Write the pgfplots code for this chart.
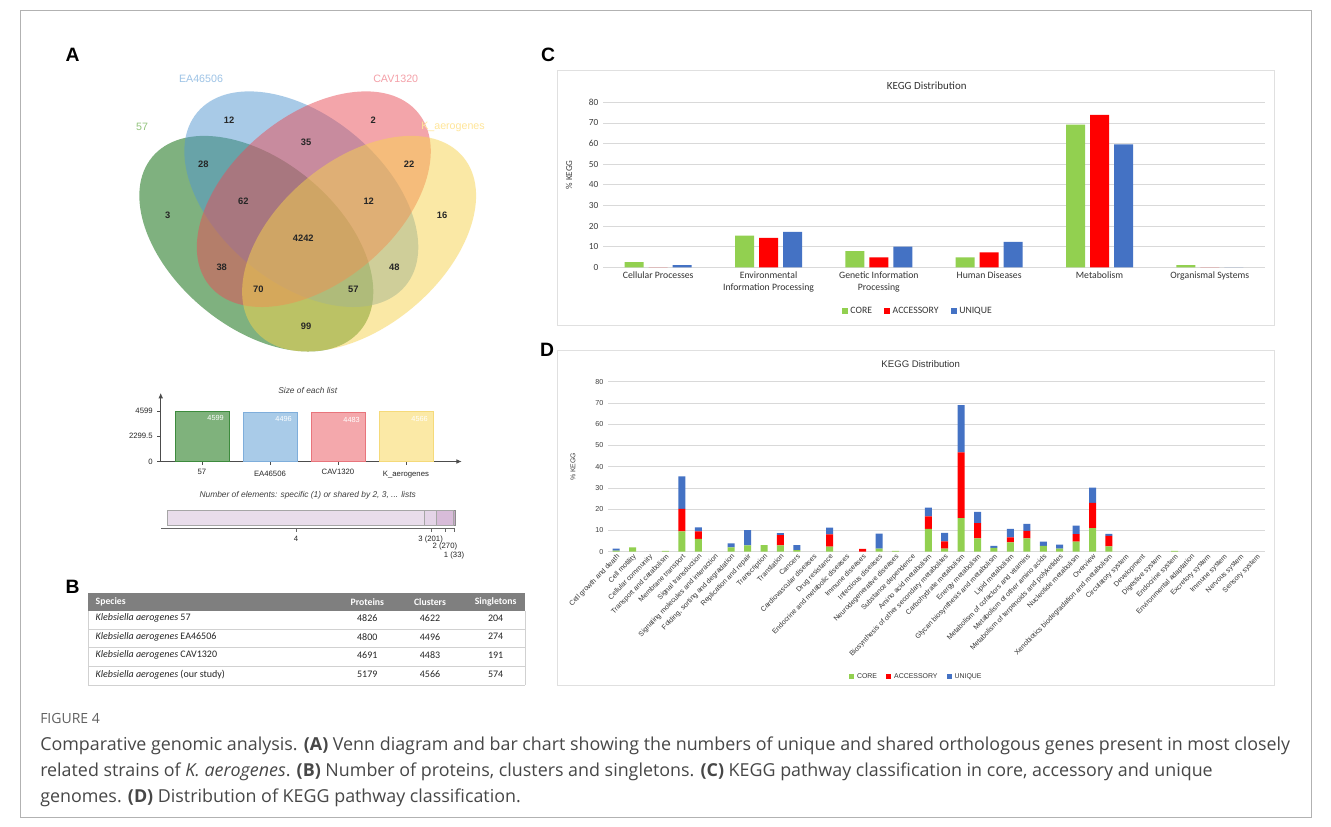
\documentclass[border=0pt]{standalone}
\usepackage{pgfplots}
\pgfplotsset{compat=1.18}
\usepackage{pgfplotstable}
\usetikzlibrary{arrows.meta}
\usepackage{fontspec}
\setmainfont{Liberation Sans}
\newfontfamily\carlito{Carlito}
\newfontfamily\capfont{Open Sans}

\definecolor{core}{HTML}{92D050}
\definecolor{acc}{HTML}{FF0000}
\definecolor{uni}{HTML}{4472C4}
\definecolor{vgreen}{RGB}{0,100,0}
\definecolor{vblue}{RGB}{83,151,209}
\definecolor{vpink}{RGB}{233,77,87}
\definecolor{vyellow}{RGB}{247,211,77}
\definecolor{gridc}{HTML}{D9D9D9}
\definecolor{tabhead}{HTML}{7F7F7F}

\pgfplotstableread{
idx core acc uni
0 2.5 0 1.0
1 15.3 14.3 17.2
2 7.9 4.8 10.0
3 4.8 7.2 12.3
4 69.2 73.9 59.6
5 1.1 0 0
}\keggC

\pgfplotstableread{
idx core acc uni
0 0.5 0 0.9
1 2.0 0 0
2 0 0 0
3 0.4 0 0
4 9.6 10.6 15.2
5 6.0 3.6 1.8
6 0 0 0
7 2.0 0 1.9
8 3.0 0 7.2
9 3.1 0 0
10 3.0 4.8 1.0
11 0.8 0 2.3
12 0 0 0
13 2.4 5.8 3.1
14 0 0 0
15 0 1.3 0
16 1.4 0 7.1
17 0.4 0 0
18 0 0 0
19 10.8 5.8 4.1
20 1.4 3.5 4.0
21 15.8 31.0 22.2
22 6.3 7.2 5.2
23 1.8 0 1.0
24 4.4 2.3 4.1
25 6.3 3.5 3.3
26 2.8 0 2.0
27 1.4 0 1.9
28 4.7 3.6 4.0
29 11.1 11.9 7.2
30 2.5 5.0 0.9
31 0 0 0
32 0 0 0
33 0 0 0
34 0.4 0 0
35 0 0 0
36 0 0 0
37 0 0 0
38 0 0 0
39 0 0 0
}\keggD

\begin{document}
\begin{tikzpicture}
\begin{scope}[x=0.75pt,y=-0.75pt]
\path[use as bounding box,fill=white] (0,0) rectangle (1331,827);
\draw[black!30,line width=0.6pt] (20,10) rectangle (1311,817);
\coordinate (venn) at (120,380);
\coordinate (size) at (160.7,461.5);
\coordinate (elem) at (161,528.3);
\coordinate (cax) at (603,267.3);
\coordinate (dax) at (608,551.7);
% frames of C and D
\draw[black!12,line width=0.75pt] (557,70.7) rectangle (1274.3,325);
\draw[black!12,line width=0.75pt] (557.3,350.7) rectangle (1274,685);
% panel letters
\foreach \L/\X/\Y in {A/72.7/55,B/72.7/586.7,C/548/55,D/547/350}
  \node[font=\bfseries\fontsize{14.5}{15}\selectfont] at (\X,\Y) {\L};
% titles of panel A charts
\node[font=\itshape\fontsize{6.3}{7}\selectfont,text=black!75] at (307.7,390.7) {Size of each list};
\node[font=\itshape\fontsize{6.3}{7}\selectfont,text=black!75] at (307.7,495.7) {Number of elements: specific (1) or shared by 2, 3, ... lists};
% C and D titles / labels
\node[font=\carlito\fontsize{8.2}{9}\selectfont,text=black!80] at (926.7,85.7) {KEGG Distribution};
\node[font=\carlito\fontsize{6.8}{8}\selectfont,text=black!75,rotate=90] at (569,175) {\% KEGG};
\node[font=\fontsize{7.2}{8}\selectfont,text=black!80] at (920.7,364.3) {KEGG Distribution};
\node[font=\fontsize{5.2}{6}\selectfont,text=black!75,rotate=90] at (573,466.7) {\% KEGG};
% table B
\fill[tabhead] (88.3,592.7) rectangle (525,610.7);
\begin{scope}[font=\carlito\bfseries\fontsize{7.3}{8}\selectfont,text=white]
\node[anchor=west] at (91,601.7) {Species};
\node at (367.3,601.7) {Proteins};
\node at (430,601.7) {Clusters};
\node at (495.7,601.7) {Singletons};
\end{scope}
\draw[black!18,line width=0.6pt] (88.3,610.7) -- (88.3,685) (525,610.7) -- (525,685);
\foreach \Y in {629.3,647.3,666.7,685} \draw[black!18,line width=0.6pt] (88.3,\Y) -- (525,\Y);
\begin{scope}[font=\carlito\fontsize{7.5}{8}\selectfont,text=black!85]
\node[anchor=west] at (91,618.3) {\textit{Klebsiella aerogenes} 57};
\node[anchor=west] at (91,636.7) {\textit{Klebsiella aerogenes} EA46506};
\node[anchor=west] at (91,655.3) {\textit{Klebsiella aerogenes} CAV1320};
\node[anchor=west] at (91,674.3) {\textit{Klebsiella aerogenes} (our study)};
\foreach \Y/\a/\b/\c in {618.3/4826/4622/204,636.7/4800/4496/274,655.3/4691/4483/191,674.3/5179/4566/574}{
  \node at (367.3,\Y) {\a}; \node at (430,\Y) {\b}; \node at (495.7,\Y) {\c};}
\end{scope}
% caption
\node[anchor=base west,inner sep=0pt,font=\capfont\fontsize{10.5}{12}\selectfont,text=black!62] at (40,723) {FIGURE 4};
\begin{scope}[font=\capfont\fontsize{13.4}{16}\selectfont,text=black!72]
\node[anchor=base west,inner sep=0pt] at (40,750) {Comparative genomic analysis. \textbf{(A)} Venn diagram and bar chart showing the numbers of unique and shared orthologous genes present in most closely};
\node[anchor=base west,inner sep=0pt] at (40,776) {related strains of \textit{K. aerogenes}. \textbf{(B)} Number of proteins, clusters and singletons. \textbf{(C)} KEGG pathway classification in core, accessory and unique};
\node[anchor=base west,inner sep=0pt] at (40,802) {genomes. \textbf{(D)} Distribution of KEGG pathway classification.};
\end{scope}
\end{scope}

% ---------------- Venn diagram ----------------
\begin{axis}[at={(venn)},anchor=south west,scale only axis,width=285pt,height=240pt,
  xmin=120,xmax=500,ymin=60,ymax=380,y dir=reverse,hide axis,clip=false]
\fill[vgreen,opacity=0.5,rotate around={-39.8:(axis cs:256.3,243.7)}] (axis cs:256.3,243.7) ellipse [x radius=101.6pt,y radius=62.55pt];
\fill[vblue,opacity=0.5,rotate around={-39.8:(axis cs:301.3,199.2)}] (axis cs:301.3,199.2) ellipse [x radius=101.6pt,y radius=62.55pt];
\fill[vpink,opacity=0.5,rotate around={39.8:(axis cs:313.8,199.2)}] (axis cs:313.8,199.2) ellipse [x radius=101.6pt,y radius=62.55pt];
\fill[vyellow,opacity=0.5,rotate around={39.8:(axis cs:359.1,243.7)}] (axis cs:359.1,243.7) ellipse [x radius=101.6pt,y radius=62.55pt];
\begin{scope}[font=\fontsize{8}{9}\selectfont]
\node[text={rgb,255:red,157;green,195;blue,230}] at (axis cs:201,79) {EA46506};
\node[text={rgb,255:red,244;green,160;blue,168}] at (axis cs:395.7,79) {CAV1320};
\node[text={rgb,255:red,147;green,196;blue,125}] at (axis cs:142,127) {57};
\node[text={rgb,255:red,255;green,230;blue,153}] at (axis cs:453,127) {K\_aerogenes};
\end{scope}
\begin{scope}[font=\bfseries\fontsize{7}{8}\selectfont,text=black!85]
\node at (axis cs:229,120.3) {12};
\node at (axis cs:373.3,120.3) {2};
\node at (axis cs:306,142.3) {35};
\node at (axis cs:203.3,164.3) {28};
\node at (axis cs:409,164.3) {22};
\node at (axis cs:167.7,215.7) {3};
\node at (axis cs:442,215.7) {16};
\node at (axis cs:243.3,201.3) {62};
\node at (axis cs:368.7,201.3) {12};
\node at (axis cs:303.3,238.3) {4242};
\node at (axis cs:221.7,267.3) {38};
\node at (axis cs:394.3,267.3) {48};
\node at (axis cs:258.3,289.3) {70};
\node at (axis cs:353.3,289.3) {57};
\node at (axis cs:306,326) {99};
\end{scope}
\end{axis}

% ---------------- Size of each list ----------------
\begin{axis}[at={(size)},anchor=south west,scale only axis,width=225.75pt,height=51.4pt,
  xmin=-0.607,xmax=3.82,ymin=0,ymax=6238,
  axis lines=left,axis line style={black!70,line width=0.6pt,-{Latex[length=4pt,width=3.5pt]}},
  ytick={0,2299.5,4599},yticklabels={0,2299.5,4599},
  xtick={0,1,2,3},xticklabels={57,{\mbox{}\\[-1.5pt]EA46506},CAV1320,{\mbox{}\\[-1.5pt]K\_aerogenes}},
  xticklabel style={align=center},
  tick style={black!70},tick align=outside,major tick length=2.5pt,
  tick label style={font=\fontsize{5.8}{7}\selectfont,text=black!85},
  /pgf/number format/assume math mode=true,clip=false]
\addplot[ybar,bar width=40.5pt,bar shift=0pt,fill={rgb,255:red,127;green,178;blue,124},draw={rgb,255:red,61;green,139;blue,61}] coordinates {(0,4599)};
\addplot[ybar,bar width=40.5pt,bar shift=0pt,fill={rgb,255:red,169;green,203;blue,232},draw={rgb,255:red,127;green,174;blue,219}] coordinates {(1,4496)};
\addplot[ybar,bar width=40.5pt,bar shift=0pt,fill={rgb,255:red,244;green,168;blue,172},draw={rgb,255:red,232;green,117;blue,124}] coordinates {(2,4483)};
\addplot[ybar,bar width=40.5pt,bar shift=0pt,fill={rgb,255:red,251;green,233;blue,166},draw={rgb,255:red,245;green,218;blue,122}] coordinates {(3,4566)};
\begin{scope}[font=\fontsize{5.5}{6}\selectfont,text=white]
\node[anchor=north east] at (axis cs:0.39,4599) {4599};
\node[anchor=north east] at (axis cs:1.39,4496) {4496};
\node[anchor=north east] at (axis cs:2.39,4483) {4483};
\node[anchor=north east] at (axis cs:3.39,4566) {4566};
\end{scope}
\end{axis}

% ---------------- Number of elements ----------------
\begin{axis}[at={(elem)},anchor=south west,scale only axis,width=220.5pt,height=16.2pt,
  xmin=-110,xmax=4746,ymin=-0.72,ymax=0.72,
  axis x line=bottom,axis y line=none,x axis line style={-,black!60,line width=0.6pt},
  xbar stacked,bar width=11.25pt,
  xtick={2121,4343.5,4579,4730.5},xticklabels={4,3 (201),{},{}},
  tick style={black!60},tick align=outside,major tick length=2.5pt,
  tick label style={font=\fontsize{5.8}{7}\selectfont,text=black!85},clip=false]
\addplot[fill={rgb,255:red,233;green,221;blue,235},draw=black!35] coordinates {(4242,0)};
\addplot[fill={rgb,255:red,228;green,212;blue,231},draw=black!35] coordinates {(201,0)};
\addplot[fill={rgb,255:red,216;green,188;blue,217},draw=black!35] coordinates {(270,0)};
\addplot[fill={rgb,255:red,200;green,170;blue,200},draw=black!45] coordinates {(33,0)};
\node[text=white,font=\fontsize{5.8}{7}\selectfont] at (axis cs:2121,0) {4242};
\node[font=\fontsize{5.8}{7}\selectfont,text=black!85] at (axis cs:4579,-1.95) {2 (270)};
\node[font=\fontsize{5.8}{7}\selectfont,text=black!85] at (axis cs:4730.5,-2.55) {1 (33)};
\end{axis}

% ---------------- Panel C ----------------
\begin{axis}[at={(cax)},anchor=south west,scale only axis,width=496.5pt,height=123.75pt,
  xmin=-0.5,xmax=5.5,ymin=0,ymax=80,ytick={0,10,...,80},
  ymajorgrids,grid style={gridc,line width=0.6pt},axis line style={draw=none},major tick length=0pt,
  xtick={0,...,5},
  xticklabels={Cellular Processes,{Environmental\\Information Processing},{Genetic Information\\Processing},Human Diseases,Metabolism,Organismal Systems},
  xticklabel style={align=center,font=\carlito\fontsize{7.3}{9}\selectfont,text=black!80},
  yticklabel style={font=\carlito\fontsize{7}{8}\selectfont,text=black!75},
  /pgf/number format/assume math mode=true,
  ybar=3.75pt,bar width=14.25pt,
  legend image code/.code={\fill[#1] (0pt,-2.2pt) rectangle (4.5pt,2.3pt);},
  legend style={at={(0.476,-0.267)},anchor=center,legend columns=3,draw=none,fill=none,
    font=\carlito\fontsize{7.3}{8}\selectfont,text=black!80,
    /tikz/every even column/.append style={column sep=7pt}},
  clip=false]
\addplot[fill=core,draw=none] table[x=idx,y=core]{\keggC};
\addplot[fill=acc,draw=none] table[x=idx,y=acc]{\keggC};
\addplot[fill=uni,draw=none] table[x=idx,y=uni]{\keggC};
\legend{CORE,ACCESSORY,UNIQUE}
\end{axis}

% ---------------- Panel D ----------------
\begin{axis}[at={(dax)},anchor=south west,scale only axis,width=492.75pt,height=127.5pt,
  xmin=-0.5,xmax=39.5,ymin=0,ymax=80,ytick={0,10,...,80},
  ymajorgrids,grid style={gridc,line width=0.6pt},axis line style={draw=none},major tick length=0pt,
  xtick={0,...,39},
  xticklabels={{Cell growth and death},{Cell motility},{Cellular community},{Transport and catabolism},{Membrane transport},{Signal transduction},{Signaling molecules and interaction},{Folding, sorting and degradation},{Replication and repair},{Transcription},{Translation},{Cancers},{Cardiovascular diseases},{Drug resistance},{Endocrine and metabolic diseases},{Immune diseases},{Infectious diseases},{Neurodegenerative diseases},{Substance dependence},{Amino acid metabolism},{Biosynthesis of other secondary metabolites},{Carbohydrate metabolism},{Energy metabolism},{Glycan biosynthesis and metabolism},{Lipid metabolism},{Metabolism of cofactors and vitamins},{Metabolism of other amino acids},{Metabolism of terpenoids and polyketides},{Nucleotide metabolism},{Overview},{Xenobiotics biodegradation and metabolism},{Circulatory system},{Development},{Digestive system},{Endocrine system},{Environmental adaptation},{Excretory system},{Immune system},{Nervous system},{Sensory system}},
  xticklabel style={rotate=46,anchor=north east,font=\fontsize{5.3}{6}\selectfont,text=black!80,inner sep=0.8pt},
  yticklabel style={font=\fontsize{5.4}{6}\selectfont,text=black!75},
  /pgf/number format/assume math mode=true,
  ybar stacked,bar width=5.25pt,
  legend image code/.code={\fill[#1] (0pt,-1.8pt) rectangle (3.8pt,1.9pt);},
  legend style={at={(0.47,-0.737)},anchor=center,legend columns=3,draw=none,fill=none,
    font=\fontsize{5.2}{6}\selectfont,text=black!80,
    /tikz/every even column/.append style={column sep=5pt}},
  clip=false]
\addplot[fill=core,draw=none] table[x=idx,y=core]{\keggD};
\addplot[fill=acc,draw=none] table[x=idx,y=acc]{\keggD};
\addplot[fill=uni,draw=none] table[x=idx,y=uni]{\keggD};
\legend{CORE,ACCESSORY,UNIQUE}
\end{axis}
\end{tikzpicture}
\end{document}
